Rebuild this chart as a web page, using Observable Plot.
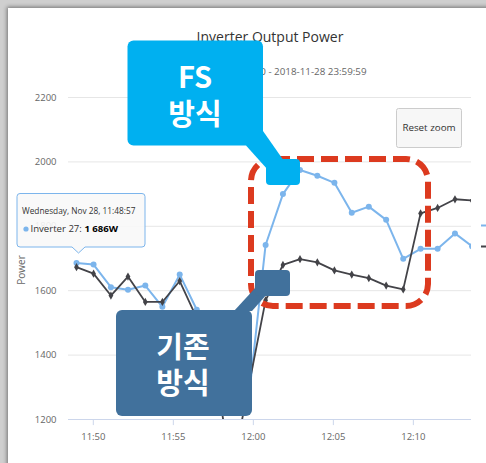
<!DOCTYPE html>
<html><head><meta charset="utf-8">
<script src="https://cdn.jsdelivr.net/npm/d3@7"></script>
<script src="https://cdn.jsdelivr.net/npm/@observablehq/plot@0.6"></script>
<style>
html,body{margin:0;padding:0;background:#fff;}
#wrap{position:relative;width:486px;height:463px;overflow:hidden;background:#cfcfcf;}
#panel{position:absolute;left:8px;top:8px;width:490px;height:470px;background:#fff;box-shadow:-1px -1px 4px rgba(0,0,0,0.45);}
#chart{position:absolute;left:0;top:0;}
#overlay{position:absolute;left:0;top:0;pointer-events:none;}
</style></head>
<body><div id="wrap"><div id="panel"></div><div id="chart"></div><svg id="overlay" width="486" height="463"></svg></div>
<script>
// ---- data ----
const times = ["11:48:57","11:50:01","11:51:06","11:52:10","11:53:15","11:54:19","11:55:24","11:56:28","11:57:33","11:58:37","11:59:42","12:00:46","12:01:51","12:02:55","12:04:00","12:05:04","12:06:09","12:07:13","12:08:18","12:09:22","12:10:27","12:11:31","12:12:36","12:13:40"];
const fsPower = [1686,1681,1611,1603,1616,1550,1650,1541,1430,1240,1260,1742,1900,1975,1957,1935,1842,1861,1820,1699,1730,1730,1778,1738];
const legacyPower = [1673,1653,1585,1644,1565,1565,1630,1515,1390,1030,1300,1570,1680,1698,1688,1663,1650,1639,1616,1604,1840,1857,1884,1880];
const xTickLabels = ["11:50","11:55","12:00","12:05","12:10"];
const yTicks = [1200,1400,1600,1800,2000,2200];
const day = "2018-11-28";
const titleText = "Inverter Output Power";
const subtitleText = "2018-11-28 00:00:00 - 2018-11-28 23:59:59";

const parse = d3.timeParse("%Y-%m-%d %H:%M:%S");
const parseHM = d3.timeParse("%Y-%m-%d %H:%M");
const data = times.map((t,i)=>({t: parse(day+" "+t), fs: fsPower[i], legacy: legacyPower[i]}));
const xTickDates = xTickLabels.map(s=>parseHM(day+" "+s));

const chart = Plot.plot({
  width:486, height:463,
  marginLeft:68, marginRight:15, marginTop:97, marginBottom:44,
  style:{background:"transparent", fontFamily:"Open Sans, sans-serif", fontSize:"9.5px", color:"#666"},
  x:{type:"time", domain:[parse(day+" 11:48:27"), parse(day+" 12:13:38")]},
  y:{domain:[1200,2200]},
  marks:[
    Plot.ruleY(yTicks.filter(v=>v>1200), {stroke:"#e6e6e6"}),
    Plot.ruleY([1200], {stroke:"#ccd6eb"}),
    Plot.ruleX(xTickDates, {x:d=>d, y1:1200, y2:1181, stroke:"#ccd6eb"}),
    Plot.axisX({ticks:xTickDates, tickFormat:d3.timeFormat("%H:%M"), tickSize:0, tickPadding:14, fill:"#666", label:null}),
    Plot.axisY({ticks:yTicks, tickFormat:d=>String(d), tickSize:0, tickPadding:12, fill:"#666", label:null}),
    Plot.line(data,{x:"t", y:"fs", stroke:"#7cb5ec", strokeWidth:2, clip:true}),
    Plot.dot(data,{x:"t", y:"fs", fill:"#7cb5ec", r:3, clip:true}),
    Plot.line(data,{x:"t", y:"legacy", stroke:"#434348", strokeWidth:1.8, clip:true}),
    Plot.dot(data,{x:"t", y:"legacy", fill:"#434348", symbol:"diamond", r:2.5, clip:true})
  ]
});
document.getElementById("chart").appendChild(chart);

// ---- overlay: titles, tooltip, button, annotations ----
const ov = document.getElementById("overlay");
const kr = "'Noto Sans CJK KR', sans-serif";
ov.innerHTML = `
<text x="270" y="42" text-anchor="middle" font-family="Open Sans, sans-serif" font-size="14px" fill="#333">${titleText}</text>
<text x="270" y="75" text-anchor="middle" font-family="Open Sans, sans-serif" font-size="9.8px" fill="#666">${subtitleText}</text>
<rect x="396.5" y="108.5" width="65" height="39" rx="2" fill="#f7f7f7" stroke="#cccccc"/>
<text x="429" y="131" text-anchor="middle" font-family="Open Sans, sans-serif" font-size="9.8px" fill="#333">Reset zoom</text>
<line x1="481" y1="225.5" x2="486" y2="225.5" stroke="#7cb5ec" stroke-width="2"/>
<line x1="481" y1="246.5" x2="486" y2="246.5" stroke="#434348" stroke-width="2"/>
<path d="M20,193.5 H142 Q145,193.5 145,196.5 V244 Q145,247 142,247 H85 L78.5,253 L72,247 H20 Q17,247 17,244 V196.5 Q17,193.5 20,193.5 Z" fill="rgba(248,248,248,0.9)" stroke="#7cb5ec" stroke-width="1"/>
<text x="22" y="214" font-family="Open Sans, sans-serif" font-size="8.3px" fill="#333">Wednesday, Nov 28, 11:48:57</text>
<circle cx="26" cy="229" r="2.6" fill="#7cb5ec"/>
<text x="30.5" y="232" font-family="Open Sans, sans-serif" font-size="9.6px" fill="#333">Inverter 27: <tspan font-weight="bold" fill="#000">1 686W</tspan></text>
<rect x="251" y="159" width="177" height="147" rx="22" fill="none" stroke="#dc3a1f" stroke-width="6" stroke-dasharray="17 7"/>
<rect x="127.5" y="40.5" width="135.5" height="105" rx="6" fill="#00b0f0"/>
<polygon points="246,145.5 263,131 284,161 268,170" fill="#00b0f0"/>
<rect x="266" y="159" width="34" height="26" rx="4" fill="#00b0f0"/>
<text x="195" y="88" text-anchor="middle" font-family="${kr}" font-weight="bold" font-size="29px" fill="#fff">FS</text>
<text x="195" y="125" text-anchor="middle" font-family="${kr}" font-weight="bold" font-size="29px" fill="#fff">방식</text>
<rect x="116" y="310" width="136" height="106" rx="6" fill="#41719c"/>
<polygon points="234,311 252,311 268,293 257,286" fill="#41719c"/>
<rect x="255" y="270" width="35" height="26" rx="4" fill="#41719c"/>
<text x="183" y="358" text-anchor="middle" font-family="${kr}" font-weight="bold" font-size="29px" fill="#fff">기존</text>
<text x="183" y="394" text-anchor="middle" font-family="${kr}" font-weight="bold" font-size="29px" fill="#fff">방식</text>
<text transform="translate(25,270) rotate(-90)" text-anchor="middle" font-family="Open Sans, sans-serif" font-size="10px" fill="#666">Power</text>
`;
</script>
</body></html>
